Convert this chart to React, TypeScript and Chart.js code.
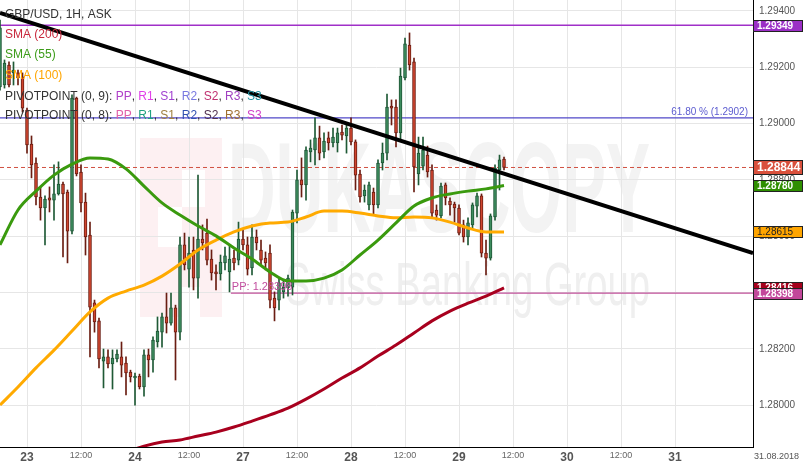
import React, { useEffect, useRef } from "react";
import { Chart, registerables } from "chart.js";

Chart.register(...registerables);

const FONT = '"Liberation Sans", Arial, sans-serif';

// ---- hourly candles, first one at 22 Aug 18:00 (hour -6 relative to 23 Aug 00:00, weekend skipped)
const FIRST_HOUR = -6;
const candleOpen = [
  1.2913, 1.29137, 1.29208, 1.2918, 1.2918, 1.29166, 1.29048, 1.28927, 1.2886, 1.28739,
  1.287, 1.28736, 1.28728, 1.2875, 1.28785, 1.28757, 1.28618, 1.29091, 1.28828, 1.28721,
  1.28604, 1.28363, 1.28299, 1.28156, 1.28171, 1.28146, 1.28164, 1.28171, 1.28149, 1.28117,
  1.28096, 1.28103, 1.28064, 1.28178, 1.2816, 1.28224, 1.28259, 1.28313, 1.28291, 1.28345,
  1.28259, 1.28569, 1.28483, 1.28551, 1.28451, 1.2859, 1.28611, 1.28519, 1.28473, 1.28466,
  1.28505, 1.28473, 1.28522, 1.28515, 1.2859, 1.28569, 1.28487, 1.28597, 1.28551, 1.28522,
  1.2854, 1.2838, 1.28373, 1.28402, 1.28416, 1.28419, 1.28682, 1.288, 1.28782, 1.28899,
  1.28906, 1.28949, 1.28899, 1.28949, 1.28931, 1.28931, 1.2897, 1.28956, 1.28984, 1.28935,
  1.28821, 1.28743, 1.28711, 1.28757, 1.28711, 1.2886, 1.28895, 1.29062, 1.29059, 1.28967,
  1.29162, 1.29279, 1.29219, 1.28821, 1.28849, 1.28888, 1.28835, 1.28693, 1.28672, 1.28782,
  1.28725, 1.28714, 1.287, 1.2864, 1.28597, 1.2864, 1.28707, 1.28743, 1.2854, 1.28522,
  1.28668, 1.28835, 1.28874,
];
const candleHigh = [
  1.29368, 1.29226, 1.29219, 1.29219, 1.2919, 1.2918, 1.29055, 1.28956, 1.28878, 1.28775,
  1.28743, 1.28775, 1.28853, 1.28864, 1.28792, 1.28764, 1.29102, 1.29094, 1.28853, 1.28753,
  1.2865, 1.28373, 1.28309, 1.28199, 1.28196, 1.28196, 1.28196, 1.28224, 1.28171, 1.28124,
  1.28114, 1.2811, 1.28196, 1.28199, 1.28242, 1.28313, 1.28327, 1.28398, 1.28398, 1.28355,
  1.28597, 1.28611, 1.28597, 1.28597, 1.28817, 1.2864, 1.28661, 1.28551, 1.28498, 1.28533,
  1.28561, 1.28569, 1.28551, 1.2865, 1.28622, 1.28597, 1.2864, 1.28622, 1.28586, 1.28544,
  1.28569, 1.28402, 1.28451, 1.28444, 1.28462, 1.28693, 1.28835, 1.28878, 1.28917, 1.28942,
  1.2902, 1.28991, 1.28967, 1.2897, 1.28984, 1.28984, 1.28995, 1.29002, 1.2902, 1.28942,
  1.28835, 1.28782, 1.28792, 1.28771, 1.28871, 1.28931, 1.29105, 1.29084, 1.29084, 1.29197,
  1.29304, 1.29322, 1.29233, 1.28952, 1.28952, 1.2892, 1.28853, 1.28711, 1.28789, 1.28789,
  1.28736, 1.28721, 1.28711, 1.28657, 1.28665, 1.28718, 1.28753, 1.2875, 1.28586, 1.28679,
  1.28853, 1.28888, 1.28881,
];
const candleLow = [
  1.29119, 1.29126, 1.2913, 1.29137, 1.29137, 1.29041, 1.28895, 1.28807, 1.28711, 1.28657,
  1.28569, 1.28686, 1.28657, 1.28746, 1.28526, 1.28505, 1.28608, 1.28814, 1.28686, 1.28533,
  1.28171, 1.28259, 1.28132, 1.28061, 1.28132, 1.28057, 1.28153, 1.281, 1.28036, 1.28082,
  1.28, 1.28057, 1.28032, 1.281, 1.28117, 1.28206, 1.28206, 1.28256, 1.28284, 1.28089,
  1.28231, 1.2848, 1.28419, 1.28409, 1.2838, 1.28551, 1.28498, 1.28444, 1.28409, 1.28444,
  1.2848, 1.28402, 1.2848, 1.28498, 1.28551, 1.28462, 1.28462, 1.28551, 1.28498, 1.2848,
  1.28345, 1.28299, 1.28338, 1.2838, 1.28387, 1.28391, 1.28647, 1.28739, 1.28728, 1.28864,
  1.28853, 1.28871, 1.28878, 1.28906, 1.28917, 1.28899, 1.28942, 1.28895, 1.28924, 1.28764,
  1.28721, 1.28721, 1.28693, 1.28675, 1.287, 1.28835, 1.28871, 1.28995, 1.28917, 1.28942,
  1.29155, 1.2919, 1.28757, 1.28782, 1.28835, 1.2881, 1.28665, 1.28657, 1.28665, 1.28711,
  1.28675, 1.2865, 1.28604, 1.28579, 1.28569, 1.28629, 1.28668, 1.28526, 1.28462, 1.28515,
  1.28657, 1.28764, 1.28835,
];
const candleClose = [
  1.2934, 1.29215, 1.29137, 1.2919, 1.29162, 1.29055, 1.28924, 1.28853, 1.28739, 1.287,
  1.28732, 1.28728, 1.2875, 1.28785, 1.2875, 1.28618, 1.29091, 1.28821, 1.28718, 1.28597,
  1.28348, 1.28295, 1.28164, 1.28171, 1.28146, 1.28167, 1.28181, 1.28142, 1.28114, 1.281,
  1.28103, 1.28064, 1.28178, 1.2816, 1.28231, 1.28263, 1.28313, 1.28291, 1.28345, 1.28259,
  1.28569, 1.28498, 1.2854, 1.28451, 1.2859, 1.28576, 1.28515, 1.28469, 1.28466, 1.28508,
  1.2853, 1.28519, 1.28505, 1.2859, 1.28569, 1.28483, 1.28597, 1.28576, 1.28515, 1.28505,
  1.28373, 1.28345, 1.28434, 1.28419, 1.28451, 1.28686, 1.288, 1.28782, 1.28906, 1.28913,
  1.28949, 1.28895, 1.28938, 1.28931, 1.28952, 1.28967, 1.28959, 1.28984, 1.28935, 1.28817,
  1.28739, 1.28764, 1.28782, 1.28711, 1.2886, 1.28895, 1.29059, 1.29055, 1.28967, 1.29169,
  1.29283, 1.29208, 1.28846, 1.28895, 1.28906, 1.28828, 1.28682, 1.28675, 1.28778, 1.28736,
  1.28711, 1.287, 1.28611, 1.28597, 1.28647, 1.28711, 1.28743, 1.2854, 1.28522, 1.28672,
  1.28842, 1.28871, 1.28844,
];

// ---- moving averages (sampled every 4 hours)
const smaHours = [-6, -2, 2, 6, 10, 14, 18, 22, 26, 30, 34, 38, 42, 46, 50, 54, 58, 62, 66, 70, 74, 78, 82, 86, 90, 94, 98, 102, 106];
const sma55 = [
  1.28569, 1.28693, 1.2876, 1.28817, 1.28856, 1.28878, 1.28874, 1.28839, 1.28778, 1.28718,
  1.28675, 1.28636, 1.28601, 1.28558, 1.28519, 1.28473, 1.28441, 1.28441, 1.28451, 1.2848,
  1.28533, 1.28586, 1.28647, 1.28707, 1.28736, 1.2875, 1.2876, 1.28768, 1.2878,
];
const sma100 = [
  1.28, 1.28064, 1.28132, 1.28195, 1.28263, 1.28331, 1.2838, 1.28405, 1.28426, 1.28458,
  1.28501, 1.28551, 1.28586, 1.28615, 1.28636, 1.28647, 1.2865, 1.28668, 1.28689, 1.28689,
  1.28682, 1.28672, 1.28665, 1.28668, 1.28665, 1.2865, 1.28629, 1.28615, 1.28615,
];
const sma200Hours = [22, 26, 30, 34, 38, 42, 46, 50, 54, 58, 62, 66, 70, 74, 78, 82, 86, 90, 94, 98, 102, 106];
const sma200 = [
  1.27833, 1.27854, 1.27869, 1.27876, 1.2789, 1.27904, 1.27922, 1.27943, 1.27965, 1.27989,
  1.28021, 1.28057, 1.28096, 1.28132, 1.28174, 1.28213, 1.28256, 1.28299, 1.28334, 1.28362,
  1.28387, 1.28416,
];

// ---- axes
const xTickHours = [0, 12, 24, 36, 48, 60, 72, 84, 96, 108, 120, 132, 144];
const xTickLabels = ["23", "12:00", "24", "12:00", "27", "12:00", "28", "12:00", "29", "12:00", "30", "12:00", "31"];
const yTickValues = [1.28, 1.282, 1.284, 1.286, 1.288, 1.29, 1.292, 1.294];
const X_MIN = -6;
const X_MAX = 161.33;
const Y_MIN = 1.27851;
const Y_MAX = 1.29439;
const dateLabel = "31.08.2018";

// ---- annotations
const trendStart = 1.29393;
const trendEnd = 1.2854;
const resistanceLevel = 1.29349;
const fibLevel = 1.2902;
const fibLabel = "61.80 % (1.2902)";
const pivotLevel = 1.28398;
const pivotStartHour = 45.3;
const lastPrice = 1.28844;

const titleText = "GBP/USD, 1H, ASK";

export default function App() {
  const ref = useRef<HTMLCanvasElement>(null);

  useEffect(() => {
    const canvas = ref.current;
    if (!canvas) return;
    Chart.defaults.font.family = FONT;

    const hours = candleOpen.map((_, i) => FIRST_HOUR + i);
    const up = candleOpen.map((o, i) => candleClose[i] >= o);
    const bodyData = hours.map((h, i) => ({
      x: h,
      y: [Math.min(candleOpen[i], candleClose[i]), Math.max(candleOpen[i], candleClose[i])],
    }));
    const wickData = hours.map((h, i) => ({ x: h, y: [candleLow[i], candleHigh[i]] }));

    const hLine = (from: number, level: number) => [
      { x: from, y: level },
      { x: X_MAX, y: level },
    ];

    const sma55Last = sma55[sma55.length - 1];
    const sma100Last = sma100[sma100.length - 1];
    const sma200Last = sma200[sma200.length - 1];

    const watermark = {
      id: "watermark",
      beforeDraw(chart: any) {
        const ctx = chart.ctx;
        ctx.save();
        ctx.fillStyle = "#ffffff";
        ctx.fillRect(0, 0, chart.width, chart.height);
        // logo square
        ctx.fillStyle = "#fdf0f2";
        ctx.fillRect(140, 138, 82, 179);
        ctx.fillStyle = "#ffffff";
        ctx.fillRect(158, 207, 24, 40);
        ctx.fillRect(182, 170, 23, 37);
        ctx.fillRect(182, 287, 18, 30);
        // brand text
        ctx.fillStyle = "#f3f3f3";
        ctx.font = "bold 128px " + FONT;
        ctx.textBaseline = "alphabetic";
        const w1 = ctx.measureText("DUKASCOPY").width;
        ctx.save();
        ctx.translate(228, 232);
        ctx.scale(422 / w1, 1);
        ctx.fillText("DUKASCOPY", 0, 0);
        ctx.restore();
        ctx.fillStyle = "#efefef";
        ctx.font = "62px " + FONT;
        const w2 = ctx.measureText("Swiss Banking Group").width;
        ctx.save();
        ctx.translate(285, 305);
        ctx.scale(365 / w2, 1);
        ctx.fillText("Swiss Banking Group", 0, 0);
        ctx.restore();
        ctx.restore();
      },
    };

    const overlay = {
      id: "overlay",
      afterDraw(chart: any) {
        const ctx = chart.ctx;
        const ys = chart.scales.y;
        const xs = chart.scales.x;
        const area = chart.chartArea;
        ctx.save();
        ctx.textBaseline = "middle";
        ctx.textAlign = "left";

        // fib label
        ctx.font = "10px " + FONT;
        ctx.fillStyle = "#5c5cd0";
        ctx.textAlign = "right";
        ctx.fillText(fibLabel, area.right - 5, ys.getPixelForValue(fibLevel) - 6);
        ctx.textAlign = "left";
        // pivot label
        ctx.fillStyle = "#c14d9e";
        ctx.font = "11px " + FONT;
        ctx.fillText("PP: " + pivotLevel.toFixed(5), xs.getPixelForValue(pivotStartHour) + 1, ys.getPixelForValue(pivotLevel) - 6);

        // legend
        ctx.font = "12px " + FONT;
        const lines: { y: number; parts: [string, string][] }[] = [
          { y: 15, parts: [[titleText, "#333333"]] },
          { y: 35, parts: [["SMA (200)", "#c8283c"]] },
          { y: 55, parts: [["SMA (55)", "#3c9c1a"]] },
          { y: 76, parts: [["SMA (100)", "#ffa500"]] },
          {
            y: 97,
            parts: [
              ["PIVOTPOINT (0, 9): ", "#333333"], ["PP", "#b040c8"], [", ", "#333333"], ["R1", "#e040e8"], [", ", "#333333"],
              ["S1", "#a040d0"], [", ", "#333333"], ["R2", "#7878e0"], [", ", "#333333"], ["S2", "#c03070"], [", ", "#333333"],
              ["R3", "#a040c0"], [", ", "#333333"], ["S3", "#2090a0"],
            ],
          },
          {
            y: 116,
            parts: [
              ["PIVOTPOINT (0, 8): ", "#333333"], ["PP", "#e060a8"], [", ", "#333333"], ["R1", "#20a080"], [", ", "#333333"],
              ["S1", "#a08040"], [", ", "#333333"], ["R2", "#3050b0"], [", ", "#333333"], ["S2", "#503050"], [", ", "#333333"],
              ["R3", "#a07030"], [", ", "#333333"], ["S3", "#d040c8"],
            ],
          },
        ];
        for (const ln of lines) {
          let x = 5;
          for (const [t, c] of ln.parts) {
            ctx.fillStyle = c;
            ctx.fillText(t, x, ln.y);
            x += ctx.measureText(t).width;
          }
        }

        // price boxes on the right axis
        const boxes = [
          { v: resistanceLevel, bg: "#9b2fc6", fg: "#ffffff", h: 11, font: "bold 10px " },
          { v: sma200Last, bg: "#a5001c", fg: "#ffffff", h: 11, font: "bold 10px " },
          { v: pivotLevel, bg: "#c2479a", fg: "#ffffff", h: 11, font: "bold 10px " },
          { v: sma100Last, bg: "#ffa500", fg: "#222222", h: 11, font: "10px " },
          { v: sma55Last, bg: "#2f8f00", fg: "#ffffff", h: 11, font: "bold 10px " },
          { v: lastPrice, bg: "#d9503c", fg: "#ffffff", h: 14, font: "bold 12px " },
        ];
        for (const b of boxes) {
          const yc = ys.getPixelForValue(b.v);
          const top = Math.round(yc - b.h / 2) + 0.5;
          ctx.fillStyle = b.bg;
          ctx.fillRect(area.right + 0.5, top, 49, b.h);
          ctx.strokeStyle = "#222222";
          ctx.lineWidth = 1;
          ctx.strokeRect(area.right + 0.5, top, 49, b.h);
          ctx.fillStyle = b.fg;
          ctx.font = b.font + FONT;
          ctx.fillText(b.v.toFixed(5), area.right + 4, top + b.h / 2 + 0.5);
        }

        // date label
        ctx.font = "9px " + FONT;
        ctx.fillStyle = "#555555";
        ctx.fillText(dateLabel, area.right + 1, 457);
        ctx.restore();
      },
    };

    const chart = new Chart(canvas, {
      type: "bar",
      data: {
        datasets: [
          {
            type: "line",
            label: "trend",
            data: [
              { x: X_MIN, y: trendStart },
              { x: X_MAX, y: trendEnd },
            ],
            borderColor: "#000000",
            borderWidth: 4,
            pointRadius: 0,
            order: 0,
          } as any,
          {
            type: "line",
            label: "SMA (55)",
            data: smaHours.map((h, i) => ({ x: h, y: sma55[i] })),
            borderColor: "#3a9a0e",
            borderWidth: 3,
            pointRadius: 0,
            cubicInterpolationMode: "monotone",
            order: 1,
          },
          {
            type: "line",
            label: "SMA (100)",
            data: smaHours.map((h, i) => ({ x: h, y: sma100[i] })),
            borderColor: "#ffaa00",
            borderWidth: 3,
            pointRadius: 0,
            cubicInterpolationMode: "monotone",
            order: 1,
          },
          {
            type: "line",
            label: "SMA (200)",
            data: sma200Hours.map((h, i) => ({ x: h, y: sma200[i] })),
            borderColor: "#a8001e",
            borderWidth: 3,
            pointRadius: 0,
            cubicInterpolationMode: "monotone",
            order: 1,
          },
          {
            type: "bar",
            label: "bodies",
            data: bodyData,
            backgroundColor: up.map((u) => (u ? "#3d8c5e" : "#d0452f")),
            borderColor: up.map((u) => (u ? "#1d5535" : "#6a1d12")),
            borderWidth: 1,
            borderSkipped: false,
            barThickness: 3,
            minBarLength: 1,
            grouped: false,
            order: 2,
          } as any,
          {
            type: "bar",
            label: "wicks",
            data: wickData,
            backgroundColor: up.map((u) => (u ? "#1f5a36" : "#6a1d12")),
            borderWidth: 0,
            barThickness: 1,
            grouped: false,
            order: 3,
          } as any,
          {
            type: "line",
            label: "resistance",
            data: hLine(X_MIN, resistanceLevel),
            borderColor: "#a030c8",
            borderWidth: 1.5,
            pointRadius: 0,
            order: 4,
          },
          {
            type: "line",
            label: "fib",
            data: hLine(X_MIN, fibLevel),
            borderColor: "#5048c8",
            borderWidth: 1.2,
            pointRadius: 0,
            order: 4,
          },
          {
            type: "line",
            label: "pivot",
            data: hLine(pivotStartHour, pivotLevel),
            borderColor: "#c0509a",
            borderWidth: 1.2,
            pointRadius: 0,
            order: 4,
          },
          {
            type: "line",
            label: "last",
            data: hLine(X_MIN, lastPrice),
            borderColor: "#d05040",
            borderWidth: 1,
            borderDash: [4, 3],
            pointRadius: 0,
            order: 4,
          },
        ],
      },
      options: {
        responsive: false,
        animation: false,
        layout: { padding: 0 },
        events: [],
        plugins: { legend: { display: false }, tooltip: { enabled: false } },
        scales: {
          x: {
            type: "linear",
            min: X_MIN,
            max: X_MAX,
            offset: false,
            afterBuildTicks: (s: any) => {
              s.ticks = xTickHours.map((v) => ({ value: v }));
            },
            afterFit: (s: any) => {
              s.height = 20;
              s.paddingLeft = 0;
              s.paddingRight = 0;
            },
            grid: { color: "#e6e6e6", drawTicks: false, offset: false },
            border: { color: "#000000", width: 1 },
            ticks: {
              autoSkip: false,
              maxRotation: 0,
              padding: 3,
              color: (c: any) => (c.index % 2 === 0 ? "#555555" : "#666666"),
              font: (c: any) =>
                c.index % 2 === 0 ? { size: 12, weight: "bold", family: FONT } : { size: 9, family: FONT },
              callback: (_v: any, i: number) => xTickLabels[i],
            },
          },
          y: {
            type: "linear",
            position: "right",
            min: Y_MIN,
            max: Y_MAX,
            afterBuildTicks: (s: any) => {
              s.ticks = yTickValues.map((v) => ({ value: v }));
            },
            afterFit: (s: any) => {
              s.width = 50;
              s.paddingTop = 0;
              s.paddingBottom = 0;
            },
            grid: { color: "#e6e6e6", drawTicks: false },
            border: { color: "#000000", width: 1 },
            ticks: {
              padding: 6,
              color: "#555555",
              font: { size: 10, family: FONT },
              callback: (v: any) => Number(v).toFixed(5),
            },
          },
        },
      } as any,
      plugins: [watermark, overlay],
    });

    return () => chart.destroy();
  }, []);

  return (
    <div style={{ position: "absolute", left: 0, top: 0, width: 803, height: 467 }}>
      <canvas ref={ref} width={803} height={467} style={{ display: "block" }} />
    </div>
  );
}
